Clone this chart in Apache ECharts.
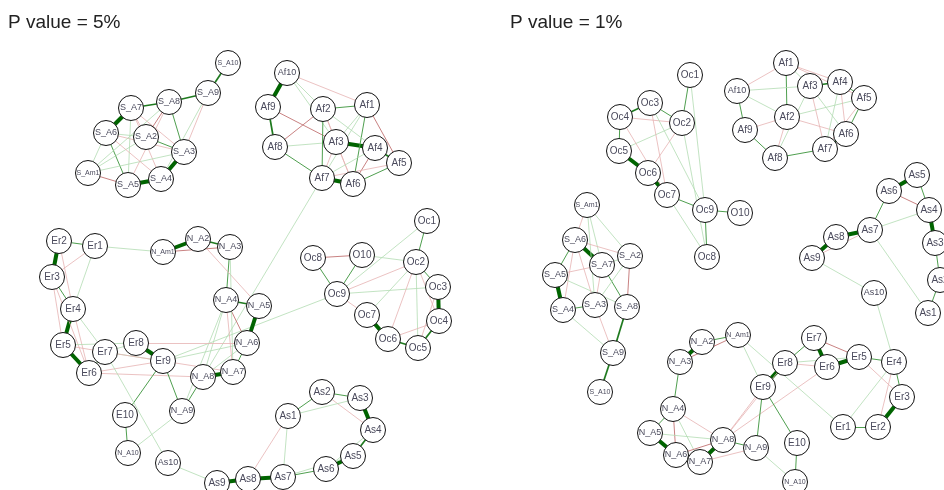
<!DOCTYPE html>
<html>
<head>
<meta charset="utf-8">
<script src="https://cdn.jsdelivr.net/npm/echarts@6/dist/echarts.min.js"></script>
<style>
  html, body { margin: 0; padding: 0; background: #fff; }
  #chart { width: 944px; height: 490px; }
</style>
</head>
<body>
<div id="chart"></div>
<script>
// panel titles
const titles = ['P value = 5%', 'P value = 1%']

// ---- left panel (p = 5%) : node names and layout positions ----
const leftNames = [
  'S_A10', 'S_A9', 'S_A8', 'S_A7', 'S_A6', 'S_A2', 'S_A3', 'S_Am1', 'S_A5', 'S_A4',
  'Af10', 'Af9', 'Af2', 'Af1', 'Af8', 'Af3', 'Af4', 'Af5', 'Af7', 'Af6',
  'Er1', 'Er2', 'Er3', 'Er4', 'Er5', 'Er6', 'Er7', 'Er8', 'Er9', 'E10',
  'N_Am1', 'N_A2', 'N_A3', 'N_A4', 'N_A5', 'N_A6', 'N_A7', 'N_A8', 'N_A9', 'N_A10',
  'Oc1', 'Oc2', 'Oc3', 'Oc4', 'Oc5', 'Oc6', 'Oc7', 'Oc8', 'Oc9', 'O10',
  'As1', 'As2', 'As3', 'As4', 'As5', 'As6', 'As7', 'As8', 'As9', 'As10'
]
const leftX = [
  228, 208, 169, 131, 106, 146, 184, 88, 128, 161,
  287, 268, 323, 367, 275, 336, 375, 399, 322, 353,
  95, 59, 52, 73, 63, 89, 105, 136, 163, 125,
  163, 198, 230, 226, 259, 247, 233, 203, 182, 128,
  427, 416, 438, 439, 418, 388, 367, 313, 337, 362,
  288, 322, 360, 373, 353, 326, 283, 248, 217, 168
]
const leftY = [
  63, 93, 102, 108, 133, 137, 152, 173, 185, 179,
  73, 107, 109, 105, 147, 142, 148, 163, 178, 184,
  246, 241, 277, 309, 345, 373, 352, 343, 361, 415,
  252, 239, 247, 300, 306, 343, 372, 377, 411, 453,
  221, 262, 287, 321, 348, 339, 315, 258, 294, 255,
  416, 392, 398, 430, 456, 469, 477, 479, 483, 463
]
// edges: [from, to, signed strength]  (+ = positive / green, - = negative / red)
const leftEdges = [
  ['S_A10', 'S_A9', 3], ['S_A9', 'S_A8', 3], ['S_A8', 'S_A7', 3], ['S_A7', 'S_A6', 4],
  ['S_A3', 'S_A4', 4], ['S_A4', 'S_A5', 4], ['S_A8', 'S_A3', 2], ['S_A9', 'S_A3', -1],
  ['S_A9', 'S_A4', 1], ['S_A7', 'S_A2', -1], ['S_A7', 'S_A3', -1], ['S_A7', 'S_A4', -1],
  ['S_A8', 'S_A2', -2], ['S_A8', 'S_A5', -1], ['S_A6', 'S_A5', 2], ['S_A6', 'S_A3', -1],
  ['S_A6', 'S_A2', 1], ['S_A2', 'S_A3', 2], ['S_Am1', 'S_A6', 1], ['S_Am1', 'S_A3', 1],
  ['S_Am1', 'S_A2', 1], ['S_Am1', 'S_A5', -2], ['S_Am1', 'S_A8', 1], ['S_A7', 'S_A5', 1],
  ['S_A6', 'S_A4', -1],
  ['Af10', 'Af9', 4], ['Af9', 'Af8', 3], ['Af8', 'Af7', 2], ['Af7', 'Af6', 4],
  ['Af3', 'Af4', 4], ['Af4', 'Af5', 3], ['Af2', 'Af1', 2], ['Af10', 'Af1', -1],
  ['Af10', 'Af3', 1], ['Af10', 'Af2', 1], ['Af9', 'Af3', -2], ['Af8', 'Af2', -2],
  ['Af8', 'Af3', 1], ['Af2', 'Af7', 2], ['Af2', 'Af6', -1], ['Af2', 'Af3', -1],
  ['Af1', 'Af7', 1], ['Af1', 'Af6', 2], ['Af1', 'Af5', -2], ['Af1', 'Af3', 1],
  ['Af3', 'Af6', -1], ['Af3', 'Af7', -1], ['Af4', 'Af7', 1], ['Af4', 'Af6', -2],
  ['Af5', 'Af6', 2], ['Af5', 'Af7', -1], ['Af2', 'Af4', 1],
  ['Oc1', 'Oc2', 2], ['Oc8', 'O10', -2], ['O10', 'Oc2', 1], ['O10', 'Oc9', 2],
  ['Oc8', 'Oc9', 2], ['Oc1', 'Oc9', 1], ['Oc2', 'Oc9', -1], ['Oc2', 'Oc3', 2],
  ['Oc3', 'Oc4', 4], ['Oc4', 'Oc5', 3], ['Oc5', 'Oc6', 3], ['Oc6', 'Oc7', 4],
  ['Oc7', 'Oc9', -1], ['Oc9', 'Oc3', 1], ['Oc2', 'Oc7', 1], ['Oc2', 'Oc6', -1],
  ['Oc2', 'Oc5', 1], ['Oc2', 'Oc4', -1], ['Oc4', 'Oc6', -1], ['Oc3', 'Oc5', -1],
  ['Af7', 'N_A8', 1], ['Oc9', 'Er9', 1],
  ['Er2', 'Er1', 2], ['Er2', 'Er3', 4], ['Er3', 'Er4', 2], ['Er4', 'Er5', 4],
  ['Er5', 'Er6', 4], ['Er6', 'Er7', 2], ['Er7', 'Er8', 1], ['Er8', 'Er9', 4],
  ['Er1', 'N_Am1', 1], ['Er2', 'Er4', -1], ['Er1', 'Er3', -1], ['Er1', 'Er4', 1],
  ['Er3', 'Er5', -1], ['Er3', 'Er6', -1], ['Er4', 'Er7', 1], ['Er4', 'Er6', -1],
  ['Er5', 'Er7', -1], ['Er5', 'Er8', 1], ['Er6', 'Er9', -1], ['Er7', 'Er9', 1],
  ['Er6', 'N_A8', -1], ['Er7', 'N_A7', -1], ['Er9', 'N_A9', 2], ['Er9', 'E10', 2],
  ['E10', 'N_A10', 2], ['N_A10', 'N_A9', 1], ['Er7', 'As10', 1],
  ['As10', 'As9', 1], ['As9', 'As8', 4], ['As8', 'As7', 4], ['As7', 'As6', 2],
  ['As6', 'As5', 4], ['As5', 'As4', 3], ['As4', 'As3', 4], ['As3', 'As2', 2],
  ['As2', 'As1', 2], ['As1', 'As7', 1], ['As1', 'As8', -1], ['As2', 'As4', -1],
  ['As1', 'As3', 1], ['As7', 'As5', 1], ['As6', 'As4', 1],
  ['N_Am1', 'N_A2', 4], ['N_Am1', 'N_A3', -2], ['N_A2', 'N_A3', 3], ['N_A3', 'N_A4', 2],
  ['N_A2', 'N_A5', -1], ['N_A4', 'N_A5', 3], ['N_A5', 'N_A6', 4], ['N_A4', 'N_A6', -2],
  ['N_A6', 'N_A7', 2], ['N_A7', 'N_A8', 4], ['N_A8', 'N_A9', 2], ['N_A4', 'N_A8', 1],
  ['N_A3', 'N_A7', 1], ['N_A4', 'N_A9', 1], ['Er9', 'N_A6', 1], ['Er8', 'N_A6', -1],
  ['N_A6', 'N_A8', 1], ['N_A4', 'N_A7', -1]
]

// ---- right panel (p = 1%) ----
const rightNames = [
  'Oc1', 'Oc2', 'Oc3', 'Oc4', 'Oc5', 'Oc6', 'Oc7', 'Oc8', 'Oc9', 'O10',
  'Af1', 'Af2', 'Af3', 'Af4', 'Af5', 'Af6', 'Af7', 'Af8', 'Af9', 'Af10',
  'S_Am1', 'S_A2', 'S_A3', 'S_A4', 'S_A5', 'S_A6', 'S_A7', 'S_A8', 'S_A9', 'S_A10',
  'As1', 'As2', 'As3', 'As4', 'As5', 'As6', 'As7', 'As8', 'As9', 'As10',
  'Er1', 'Er2', 'Er3', 'Er4', 'Er5', 'Er6', 'Er7', 'Er8', 'Er9', 'E10',
  'N_Am1', 'N_A2', 'N_A3', 'N_A4', 'N_A5', 'N_A6', 'N_A7', 'N_A8', 'N_A9', 'N_A10'
]
const rightX = [
  690, 682, 650, 620, 619, 648, 667, 707, 705, 740,
  786, 787, 810, 840, 864, 846, 825, 775, 745, 737,
  587, 630, 595, 563, 555, 575, 602, 627, 613, 600,
  928, 940, 935, 929, 917, 889, 870, 836, 812, 874,
  843, 878, 902, 894, 859, 827, 814, 785, 763, 797,
  738, 702, 680, 673, 650, 676, 700, 723, 756, 795
]
const rightY = [
  75, 123, 103, 117, 151, 173, 195, 257, 210, 213,
  63, 117, 86, 82, 98, 134, 149, 158, 130, 91,
  205, 256, 305, 310, 275, 240, 265, 307, 353, 392,
  313, 280, 243, 210, 175, 191, 230, 237, 258, 293,
  427, 427, 397, 362, 357, 367, 338, 363, 387, 443,
  335, 342, 362, 409, 433, 455, 462, 440, 448, 482
]
const rightEdges = [
  ['Oc1', 'Oc2', 2], ['Oc3', 'Oc4', 3], ['Oc3', 'Oc2', 2], ['Oc4', 'Oc5', 2],
  ['Oc5', 'Oc6', 4], ['Oc6', 'Oc7', 4], ['Oc7', 'Oc9', 2], ['Oc9', 'Oc8', 2],
  ['Oc9', 'O10', 2], ['Oc1', 'Oc9', 1], ['Oc4', 'Oc2', -1], ['Oc3', 'Oc9', 1],
  ['Oc2', 'Oc5', 1], ['Oc2', 'Oc6', -1], ['Oc4', 'Oc7', -1], ['Oc2', 'Oc8', 1],
  ['Oc7', 'Oc8', 1], ['Oc3', 'Oc7', -1],
  ['S_Am1', 'S_A6', -1], ['S_Am1', 'S_A7', 1], ['S_Am1', 'S_A2', 1], ['S_A6', 'S_A7', 4],
  ['S_A6', 'S_A5', 2], ['S_A5', 'S_A4', 4], ['S_A4', 'S_A3', 2], ['S_A7', 'S_A8', 2],
  ['S_A8', 'S_A9', 3], ['S_A9', 'S_A10', 3], ['S_A2', 'S_A8', -2], ['S_A6', 'S_A4', -1],
  ['S_A5', 'S_A7', -1], ['S_A7', 'S_A3', -1], ['S_A2', 'S_A3', 1], ['S_A2', 'S_A7', 1],
  ['S_A4', 'S_A9', 1], ['S_A3', 'S_A9', -1], ['S_A5', 'S_A8', 1], ['S_Am1', 'S_A3', 1],
  ['S_A6', 'S_A3', -1], ['S_A6', 'S_A2', -1],
  ['Af1', 'Af2', 2], ['Af1', 'Af3', 1], ['Af1', 'Af4', -1], ['Af3', 'Af4', 3],
  ['Af4', 'Af5', 2], ['Af5', 'Af6', 2], ['Af6', 'Af7', 3], ['Af7', 'Af8', 2],
  ['Af8', 'Af9', 2], ['Af9', 'Af10', 2], ['Af10', 'Af3', 1], ['Af10', 'Af2', 1],
  ['Af1', 'Af10', -1], ['Af2', 'Af9', -1], ['Af2', 'Af6', -1], ['Af2', 'Af8', -1],
  ['Af2', 'Af5', 1], ['Af3', 'Af6', 1], ['Af3', 'Af7', -1], ['Af4', 'Af6', -1],
  ['Af4', 'Af7', 1], ['Af5', 'Af7', -1], ['Af3', 'Af8', 1], ['Af1', 'Af5', -1],
  ['As5', 'As6', 4], ['As5', 'As4', 2], ['As6', 'As4', -2], ['As6', 'As7', 2],
  ['As7', 'As8', 4], ['As8', 'As9', 4], ['As7', 'As4', 1], ['As9', 'As10', 1],
  ['As7', 'As1', 1], ['As4', 'As3', 4], ['As3', 'As2', 2], ['As2', 'As1', 2],
  ['As9', 'As7', -1], ['As10', 'Er4', 1],
  ['Er7', 'Er6', 4], ['Er7', 'Er8', 2], ['Er8', 'Er9', 4], ['Er6', 'Er5', 4],
  ['Er5', 'Er4', 2], ['Er4', 'Er3', 2], ['Er3', 'Er2', 4], ['Er2', 'Er1', 2],
  ['Er7', 'Er5', -2], ['Er8', 'Er6', -1], ['Er8', 'Er5', 1], ['Er5', 'Er3', -1],
  ['Er4', 'Er2', -1], ['Er4', 'Er1', 1], ['Er6', 'N_A8', -1], ['Er8', 'N_A8', -1],
  ['Er9', 'N_A9', 2], ['Er9', 'E10', 2], ['E10', 'N_A10', 2], ['N_A9', 'N_A10', 1],
  ['N_Am1', 'Er9', 1], ['N_Am1', 'Er1', 1],
  ['N_Am1', 'N_A2', 2], ['N_A2', 'N_A3', 4], ['N_Am1', 'N_A3', -2], ['N_A3', 'N_A4', 2],
  ['N_A4', 'N_A5', 2], ['N_A5', 'N_A6', 4], ['N_A6', 'N_A7', 2], ['N_A7', 'N_A8', 4],
  ['N_A4', 'N_A6', -2], ['N_A4', 'N_A8', -1], ['N_A4', 'N_A7', 1], ['N_A5', 'N_A8', 1],
  ['N_A6', 'N_A8', -2], ['N_A8', 'N_A9', 2], ['N_A7', 'N_A9', -1], ['N_A8', 'Er9', -1]
]

// edge look by strength tier
const posStyle = {
  1: { color: '#b3dcb3', width: 0.8 },
  2: { color: '#4f9f4f', width: 1 },
  3: { color: '#1f7a1f', width: 1.7 },
  4: { color: '#006400', width: 4 }
}
const negStyle = {
  1: { color: '#e6b3b3', width: 0.8 },
  2: { color: '#c98282', width: 1 },
  3: { color: '#b05050', width: 1.5 }
}

const labelSize = (name) => {
  if (name.length <= 3) return 10
  if (name.length === 4) return 9
  return 7
}

const buildNodes = (names, xs, ys) =>
  names.map((n, i) => ({
    name: n,
    value: [xs[i], ys[i]],
    label: { fontSize: labelSize(n) }
  }))

const buildLinks = (edges) =>
  edges.map(([a, b, w]) => {
    const s = w > 0 ? posStyle[w] : negStyle[-w]
    return { source: a, target: b, lineStyle: { color: s.color, width: s.width, opacity: 1 } }
  })

const graphSeries = (names, xs, ys, edges) => ({
  type: 'graph',
  layout: 'none',
  coordinateSystem: 'cartesian2d',
  xAxisIndex: 0,
  yAxisIndex: 0,
  symbol: 'circle',
  symbolSize: 25,
  silent: true,
  itemStyle: { color: '#fff', borderColor: '#111', borderWidth: 1 },
  label: {
    show: true,
    position: 'inside',
    color: '#4a4a5c',
    fontFamily: 'Liberation Sans, Arial, sans-serif'
  },
  lineStyle: { curveness: 0 },
  data: buildNodes(names, xs, ys),
  links: buildLinks(edges)
})

const chart = echarts.init(document.getElementById('chart'))

chart.setOption({
  animation: false,
  backgroundColor: '#fff',
  title: [
    { text: titles[0], left: 8, top: 13 },
    { text: titles[1], left: 510, top: 13 }
  ].map((t) => ({
    ...t,
    padding: 0,
    textStyle: { fontSize: 19, fontWeight: 'normal', color: '#222', fontFamily: 'Liberation Sans, Arial, sans-serif' }
  })),
  grid: { left: 0, right: 0, top: 0, bottom: 0 },
  xAxis: { type: 'value', min: 0, max: 944, show: false },
  yAxis: { type: 'value', min: 0, max: 490, inverse: true, show: false },
  series: [
    graphSeries(leftNames, leftX, leftY, leftEdges),
    graphSeries(rightNames, rightX, rightY, rightEdges)
  ]
})
</script>
</body>
</html>
